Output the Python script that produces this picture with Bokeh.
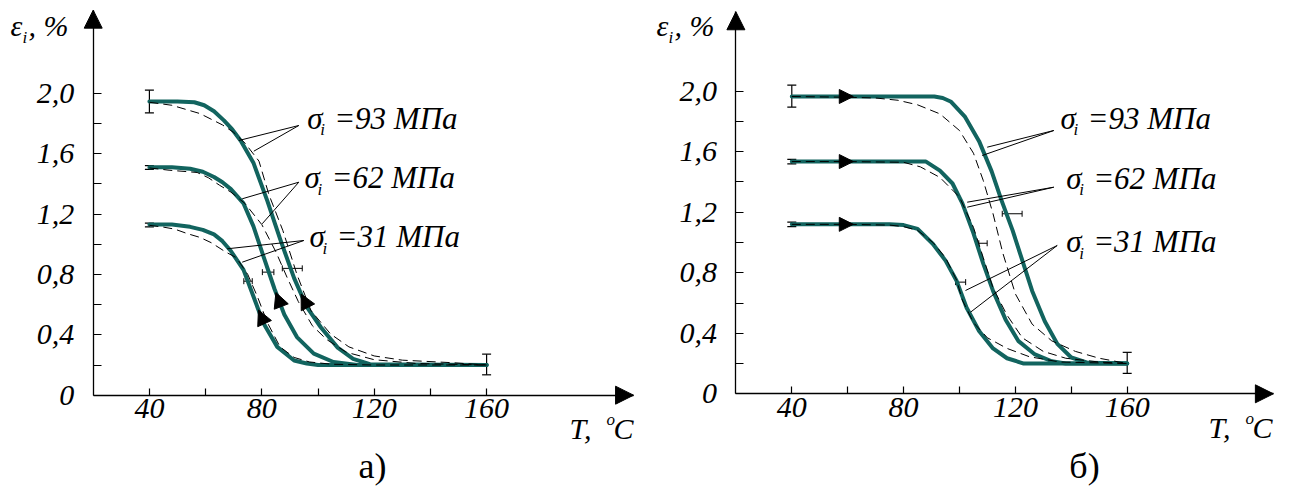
from bokeh.plotting import figure
from bokeh.layouts import row
from bokeh.models import (FixedTicker, CustomJSTickFormatter, Arrow, NormalHead, TeeHead,
                          Whisker, ColumnDataSource, Label)
from bokeh.embed import file_html
from bokeh.resources import INLINE

# ---------------- data: panel а) ----------------
T_A_93 = [40, 50, 56, 59.5, 63, 66.5, 69.5, 72.5, 77, 82, 86.5, 91.5, 96, 101, 107, 112.5, 118.5, 160]
E_A_93 = [1.945, 1.945, 1.94, 1.92, 1.88, 1.82, 1.76, 1.685, 1.54, 1.285, 1.035, 0.775, 0.585, 0.45, 0.315, 0.24, 0.205, 0.2]
T_A_62 = [40, 48, 54.5, 59, 63, 66, 69, 73.5, 77, 80.5, 84.5, 88, 92.5, 98.5, 105.5, 114, 160]
E_A_62 = [1.51, 1.51, 1.50, 1.48, 1.445, 1.41, 1.365, 1.27, 1.12, 0.925, 0.705, 0.535, 0.385, 0.275, 0.22, 0.2, 0.2]
T_A_31 = [40, 48, 54.5, 59, 63, 66, 69, 73.5, 77, 80.5, 85.5, 91.5, 96, 100, 160]
E_A_31 = [1.13, 1.13, 1.115, 1.095, 1.065, 1.02, 0.955, 0.83, 0.655, 0.48, 0.32, 0.23, 0.21, 0.2, 0.2]

TD_A_93 = [40, 48, 58, 66, 70, 74, 79, 82.5, 87.5, 92.5, 97.5, 104.5, 111, 120, 130, 148, 160]
ED_A_93 = [1.94, 1.92, 1.865, 1.79, 1.74, 1.67, 1.55, 1.33, 1.09, 0.80, 0.56, 0.405, 0.32, 0.26, 0.232, 0.215, 0.2]
TD_A_62 = [40, 47, 57, 61, 65, 69, 74, 80, 85, 89, 93, 98, 103, 110, 120, 135, 160]
ED_A_62 = [1.505, 1.49, 1.475, 1.44, 1.39, 1.345, 1.27, 1.13, 0.95, 0.78, 0.62, 0.46, 0.37, 0.285, 0.235, 0.21, 0.2]
TD_A_31 = [40, 45, 49, 53.5, 58, 62, 67, 71, 75, 78.5, 82, 86.5, 91.5, 97, 105, 120, 160]
ED_A_31 = [1.125, 1.113, 1.10, 1.07, 1.045, 1.01, 0.95, 0.91, 0.80, 0.65, 0.48, 0.32, 0.25, 0.22, 0.205, 0.2, 0.2]

EB_A_T = [40, 40, 40, 160]
EB_A_LO = [1.87, 1.495, 1.115, 0.135]
EB_A_HI = [2.02, 1.52, 1.14, 0.272]
HB_A_E = [0.815, 0.84, 0.755]
HB_A_LO = [80.2, 87.3, 73.6]
HB_A_HI = [84.3, 94.4, 76.6]

# ---------------- data: panel б) ----------------
T_B_93 = [40, 60, 80, 91, 94, 97, 102, 107, 111.5, 115, 119, 122.5, 126, 130.5, 135, 140, 146, 160]
E_B_93 = [1.965, 1.965, 1.965, 1.965, 1.955, 1.93, 1.83, 1.67, 1.47, 1.28, 1.08, 0.88, 0.68, 0.48, 0.33, 0.24, 0.205, 0.2]
T_B_62 = [40, 60, 80, 88, 93, 97.5, 101, 105, 108.5, 112, 116.5, 121, 127, 133, 138, 160]
E_B_62 = [1.535, 1.535, 1.535, 1.535, 1.475, 1.39, 1.26, 1.06, 0.86, 0.68, 0.49, 0.35, 0.26, 0.215, 0.2, 0.2]
T_B_31 = [40, 60, 75, 80, 85, 90.5, 95, 99, 102.5, 107, 112, 117, 123, 160]
E_B_31 = [1.12, 1.12, 1.12, 1.115, 1.09, 0.99, 0.88, 0.745, 0.57, 0.415, 0.30, 0.235, 0.2, 0.2]

TD_B_93 = [40, 60, 70, 78, 85, 93, 100, 105, 108.5, 112, 115.5, 120, 126, 133, 141.5, 150, 160]
ED_B_93 = [1.965, 1.96, 1.955, 1.94, 1.91, 1.85, 1.74, 1.59, 1.41, 1.19, 0.93, 0.66, 0.46, 0.35, 0.28, 0.235, 0.2]
TD_B_62 = [40, 60, 80, 86, 93, 100, 105, 108.5, 112, 117, 122.5, 130, 138, 150, 160]
ED_B_62 = [1.535, 1.535, 1.53, 1.50, 1.43, 1.30, 1.10, 0.90, 0.70, 0.52, 0.37, 0.28, 0.235, 0.21, 0.2]
TD_B_31 = [40, 60, 75, 80, 85, 90.5, 95, 99, 101, 105, 110, 117, 125, 136, 160]
ED_B_31 = [1.12, 1.12, 1.115, 1.105, 1.08, 1.0, 0.90, 0.75, 0.62, 0.47, 0.37, 0.30, 0.245, 0.21, 0.2]

EB_B_T = [40, 40, 40, 160]
EB_B_LO = [1.895, 1.52, 1.105, 0.135]
EB_B_HI = [2.04, 1.55, 1.135, 0.274]
HB_B_E = [1.19, 0.995, 0.738]
HB_B_LO = [115.3, 106.9, 98.6]
HB_B_HI = [122.4, 109.9, 102.2]

X_TICKS = [40, 80, 120, 160]
X_MINOR = [60, 100, 140]
Y_TICKS = [0, 0.4, 0.8, 1.2, 1.6, 2.0]
Y_MINOR = [0.2, 0.6, 1.0, 1.4, 1.8]
STRESS = ["93", "62", "31"]

# ---------------- style / layout ----------------
TEAL = "#12645f"
SERIF = "Liberation Serif"
H = 486


class Panel:
    """Maps page pixels to data for one panel (canvas covers the whole panel)."""
    def __init__(self, page_left, width, x0, kx, y0, ky, xtip, ytip):
        self.page_left, self.width = page_left, width
        self.x0, self.kx, self.y0, self.ky = x0, kx, y0, ky
        self.xtip, self.ytip = xtip, ytip
        self.xr = (self.T(page_left), self.T(page_left + width))
        self.yr = (self.E(H), self.E(0))

    def T(self, px):
        return 20 + (px - self.x0) / self.kx

    def E(self, py):
        return (self.y0 - py) / self.ky


def text(p, P, px, py, s, size, italic=True, align="left"):
    # py is the wanted glyph baseline in page pixels
    py = py - size / 3.0
    p.add_layout(Label(x=P.T(px), y=P.E(py), text=s, text_font=SERIF,
                       text_font_style="italic" if italic else "normal",
                       text_font_size=f"{size}px", text_color="black",
                       text_align=align, text_baseline="alphabetic"))


def on_curve(T, E, e):
    for i in range(len(E) - 1):
        if E[i] != E[i + 1] and (E[i] - e) * (E[i + 1] - e) <= 0:
            f = (E[i] - e) / (E[i] - E[i + 1])
            return T[i] + f * (T[i + 1] - T[i])
    return T[0]


def make_panel(P, solids, dashes, eb, hb, curve_arrows, leaders, labels, eps_x, t_x, t_base, cap_x, cap):
    p = figure(width=P.width, height=H, x_range=P.xr, y_range=P.yr, title=None,
               output_backend="svg", toolbar_location=None,
               min_border_left=0, min_border_right=0, min_border_top=0, min_border_bottom=0)
    p.outline_line_color = None
    p.xgrid.visible = False
    p.ygrid.visible = False
    p.background_fill_color = "white"
    p.border_fill_color = "white"

    xa, ya = p.xaxis[0], p.yaxis[0]
    xa.fixed_location = 0
    ya.fixed_location = 20
    xa.bounds = (20, P.xtip)
    ya.bounds = (0, P.ytip)
    xa.ticker = FixedTicker(ticks=X_TICKS, minor_ticks=X_MINOR)
    ya.ticker = FixedTicker(ticks=Y_TICKS, minor_ticks=Y_MINOR)
    ya.formatter = CustomJSTickFormatter(
        code="return tick == 0 ? '0' : tick.toFixed(1).replace('.', ',');")
    for ax, tl in ((xa, 7), (ya, 8)):
        ax.axis_line_color = "black"
        ax.axis_line_width = 1.3
        ax.major_tick_in = tl
        ax.major_tick_out = 0
        ax.minor_tick_in = tl
        ax.minor_tick_out = 0
        ax.major_tick_line_color = "black"
        ax.minor_tick_line_color = "black"
        ax.major_tick_line_width = 1.2
        ax.minor_tick_line_width = 1.2
        ax.major_label_text_font = SERIF
        ax.major_label_text_font_style = "italic"
        ax.major_label_text_font_size = "30px"
        ax.major_label_text_color = "black"
    xa.major_label_standoff = 4
    ya.major_label_standoff = 19

    # axis arrowheads
    p.add_layout(Arrow(end=NormalHead(size=18, fill_color="black", line_color="black"),
                       x_start=20, y_start=P.ytip - 0.2, x_end=20, y_end=P.ytip,
                       line_color=None))
    p.add_layout(Arrow(end=NormalHead(size=18, fill_color="black", line_color="black"),
                       x_start=P.xtip - 10, y_start=0, x_end=P.xtip, y_end=0,
                       line_color=None))

    for t, e in solids:
        p.line(t, e, line_color=TEAL, line_width=4, line_join="round", line_cap="round")
    for t, e in dashes:
        p.line(t, e, line_color="black", line_width=1, line_dash="9 5")

    # vertical error bars
    src = ColumnDataSource(dict(base=eb[0], lower=eb[1], upper=eb[2]))
    p.add_layout(Whisker(source=src, base="base", lower="lower", upper="upper",
                         dimension="height", line_color="black", line_width=1.2,
                         lower_head=TeeHead(size=9, line_color="black", line_width=1.2),
                         upper_head=TeeHead(size=9, line_color="black", line_width=1.2)))
    # horizontal error bars
    src2 = ColumnDataSource(dict(base=hb[0], lower=hb[1], upper=hb[2]))
    p.add_layout(Whisker(source=src2, base="base", lower="lower", upper="upper",
                         dimension="width", line_color="black", line_width=1,
                         lower_head=TeeHead(size=6, line_color="black", line_width=1),
                         upper_head=TeeHead(size=6, line_color="black", line_width=1)))

    for (x0, y0, x1, y1, sz) in curve_arrows:
        p.add_layout(Arrow(end=NormalHead(size=sz, fill_color="black", line_color="black"),
                           x_start=x0, y_start=y0, x_end=x1, y_end=y1, line_color=None))

    # leader lines from labels
    lx0, ly0, lx1, ly1 = [], [], [], []
    for (ax_, ay_, bx_, by_) in leaders:
        lx0.append(P.T(ax_)); ly0.append(P.E(ay_)); lx1.append(P.T(bx_)); ly1.append(P.E(by_))
    p.segment(lx0, ly0, lx1, ly1, line_color="black", line_width=1)

    for (sx, base, s) in labels:
        text(p, P, sx, base, "σ", 31)
        text(p, P, sx + 13, base + 6.5, "i", 17)
        text(p, P, sx + 27, base, "=" + s + " МПа", 31)

    # axis titles
    text(p, P, eps_x, 35, "ε", 30)
    text(p, P, eps_x + 12, 43, "i", 17)
    text(p, P, eps_x + 18, 35, ", %", 30)
    text(p, P, t_x, t_base, "T,", 30)
    text(p, P, t_x + 37, t_base - 13, "o", 17)
    text(p, P, t_x + 44, t_base, "C", 30)
    text(p, P, cap_x, 477, cap, 36, italic=False, align="center")
    return p


PA = Panel(page_left=0, width=646, x0=92.7, kx=2.81, y0=394.7, ky=151.0, xtip=212.3, ytip=2.55)
PB = Panel(page_left=646, width=646, x0=735.4, kx=2.795, y0=393.3, ky=151.3, xtip=212.3, ytip=2.525)


def arrows_up(curves, levels, size):
    out = []
    for (t, e), (lo, hi) in zip(curves, levels):
        out.append((on_curve(t, e, lo), lo, on_curve(t, e, hi), hi, size))
    return out


pa = make_panel(
    PA,
    solids=[(T_A_93, E_A_93), (T_A_62, E_A_62), (T_A_31, E_A_31)],
    dashes=[(TD_A_93, ED_A_93), (TD_A_62, ED_A_62), (TD_A_31, ED_A_31)],
    eb=(EB_A_T, EB_A_LO, EB_A_HI),
    hb=(HB_A_E, HB_A_LO, HB_A_HI),
    curve_arrows=arrows_up([(T_A_31, E_A_31), (T_A_62, E_A_62), (T_A_93, E_A_93)],
                           [(0.43, 0.565), (0.56, 0.68), (0.55, 0.67)], 15),
    leaders=[(298.3, 125, 238.3, 140), (298.3, 125, 253.3, 150.7),
             (298.3, 181.7, 241.7, 198.3), (298.3, 181.7, 261.7, 223.3),
             (303.3, 240, 226.7, 248.3), (303.3, 240, 241.7, 261.7)],
    labels=[(306.7, 128.3, STRESS[0]), (304, 187.7, STRESS[1]), (309, 246.7, STRESS[2])],
    eps_x=10, t_x=569, t_base=438, cap_x=372, cap="а)")

pb = make_panel(
    PB,
    solids=[(T_B_93, E_B_93), (T_B_62, E_B_62), (T_B_31, E_B_31)],
    dashes=[(TD_B_93, ED_B_93), (TD_B_62, ED_B_62), (TD_B_31, ED_B_31)],
    eb=(EB_B_T, EB_B_LO, EB_B_HI),
    hb=(HB_B_E, HB_B_LO, HB_B_HI),
    curve_arrows=[(54, E_B_93[0], 62, E_B_93[0], 14), (54, E_B_62[0], 62, E_B_62[0], 14),
                  (54, E_B_31[0], 62, E_B_31[0], 14)],
    leaders=[(1053.3, 130, 986.7, 146.7), (1053.3, 130, 981.7, 155),
             (1053.3, 186.7, 966.7, 201.7), (1053.3, 186.7, 966.7, 206.7),
             (1056.7, 245, 965, 290), (1056.7, 245, 970, 311.7)],
    labels=[(1060, 128.3, STRESS[0]), (1065.7, 188.3, STRESS[1]), (1065.7, 251.7, STRESS[2])],
    eps_x=656, t_x=1208, t_base=437, cap_x=1084, cap="б)")

layout = row(pa, pb)
open("out.html", "w").write(file_html(layout, INLINE))
